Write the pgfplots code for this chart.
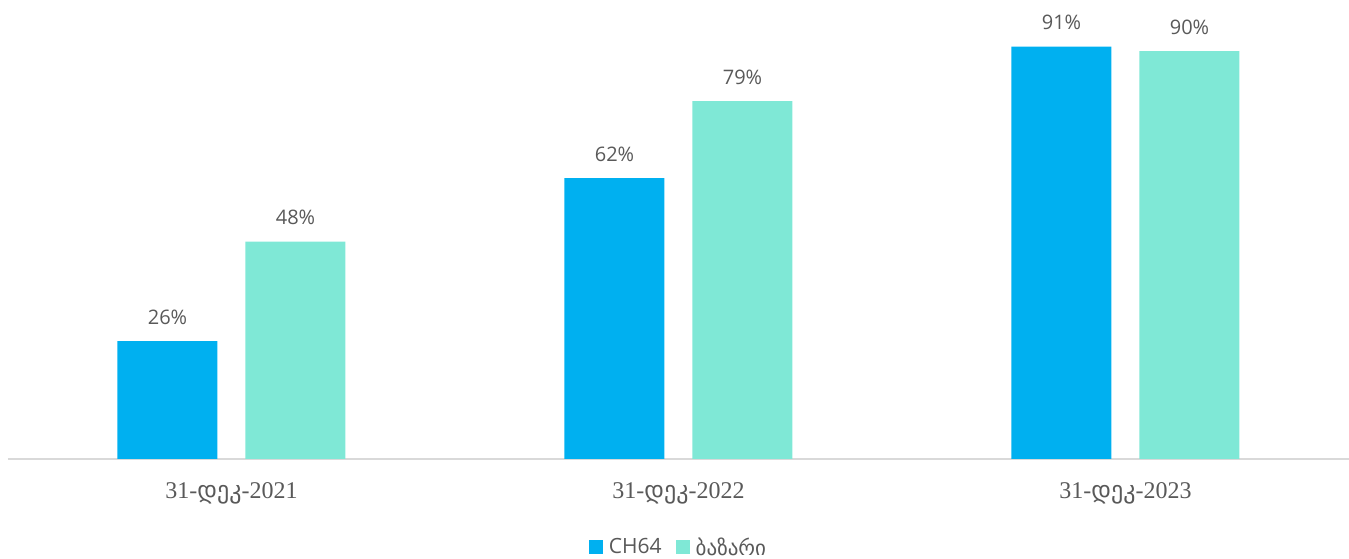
\documentclass[border=0pt]{standalone}
\usepackage{fontspec}
\setmainfont{Liberation Serif}
\newfontfamily\geo{DejaVu Sans}
\newfontfamily\lab{Open Sans}
\usepackage{pgfplots}
\pgfplotsset{compat=1.18}
\definecolor{chblue}{HTML}{00B0F0}
\definecolor{mkt}{HTML}{7FE8D6}
\definecolor{txt}{HTML}{595959}
\definecolor{axl}{HTML}{D9D9D9}
\begin{document}
\begin{tikzpicture}
\useasboundingbox (0,0) rectangle (1349pt,559pt);
\begin{axis}[
  at={(8pt,100pt)}, anchor=south west,
  scale only axis, width=1341pt, height=459pt,
  ybar=28pt, bar width=100pt,
  xmin=-0.5, xmax=2.5, ymin=0, ymax=101.3,
  axis x line*=bottom, axis y line=none,
  x axis line style={draw=axl, line width=1.5pt, -},
  xtick=data, major tick length=0pt,
  xticklabels={31-{\geo დეკ}-2021, 31-{\geo დეკ}-2022, 31-{\geo დეკ}-2023},
  xticklabel style={font=\fontsize{24}{26}\selectfont, text=txt, yshift=-20pt},
  /pgf/number format/assume math mode=true,
  nodes near coords={\pgfmathprintnumber{\pgfplotspointmeta}\%},
  nodes near coords style={font=\lab\fontsize{20}{22}\selectfont, text=txt, yshift=13pt},
  legend style={at={(0.5,-0.192)}, anchor=center, draw=none, legend columns=-1,
    font=\lab\fontsize{21}{23}\selectfont, text=txt,
    /tikz/every odd column/.append style={column sep=4pt},
    /tikz/every even column/.append style={column sep=12pt}},
  legend image code/.code={\fill[#1] (-2pt,-7pt) rectangle (12pt,7pt);},
]
\addplot[fill=chblue, draw=none] coordinates {(0,26) (1,62) (2,91)};
\addplot[fill=mkt, draw=none] coordinates {(0,48) (1,79) (2,90)};
\legend{CH64, {\geo ბაზარი}}
\end{axis}
\end{tikzpicture}
\end{document}
